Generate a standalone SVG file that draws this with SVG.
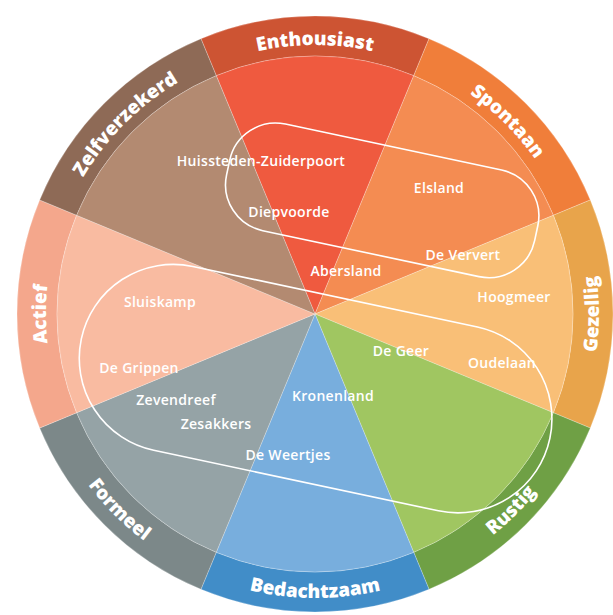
<svg xmlns="http://www.w3.org/2000/svg" width="613" height="615" viewBox="0 0 613 615">
<style>
.sec{stroke:#ffffff;stroke-opacity:0.35;stroke-width:0.7}
.ring{font-family:"Open Sans","Lato","DejaVu Sans",sans-serif;font-weight:800;font-size:19px;fill:#ffffff;letter-spacing:0px}
.lbl{font-family:"Open Sans","Lato","DejaVu Sans",sans-serif;font-weight:600;font-size:14px;fill:#ffffff;text-anchor:middle;letter-spacing:0.3px}
.pill{fill:none;stroke:#ffffff;stroke-width:1.6}
</style>
<defs>
<path id="pEnt" d="M82.04,179.5 A269,269 0 0 1 547.96,179.5"/>
<path id="pSpo" d="M245.38,54.16 A269,269 0 0 1 574.84,383.62"/>
<path id="pZel" d="M55.16,383.62 A269,269 0 0 1 384.62,54.16"/>
<path id="pAct" d="M180.5,546.96 A269,269 0 0 1 180.5,81.04"/>
<path id="pGez" d="M457,559.95 A284,284 0 0 0 457,68.05"/>
<path id="pRus" d="M241.5,588.32 A284,284 0 0 0 589.32,240.5"/>
<path id="pBed" d="M69.05,456 A284,284 0 0 0 560.95,456"/>
<path id="pFor" d="M40.68,240.5 A284,284 0 0 0 388.5,588.32"/>
</defs>
<g id="sector-enthousiast">
<path class="sec" fill="#CD5433" d="M200.96,38.68 A298,298 0 0 1 429.04,38.68 L413.73,75.64 A258,258 0 0 0 216.27,75.64 Z"/>
<path class="sec" fill="#EF5A3F" d="M315,314 L216.27,75.64 A258,258 0 0 1 413.73,75.64 Z"/>
<text class="ring"><textPath href="#pEnt" startOffset="50%" text-anchor="middle">Enthousiast</textPath></text>
</g>
<g id="sector-spontaan">
<path class="sec" fill="#F07E3A" d="M429.04,38.68 A298,298 0 0 1 590.32,199.96 L553.36,215.27 A258,258 0 0 0 413.73,75.64 Z"/>
<path class="sec" fill="#F48C52" d="M315,314 L413.73,75.64 A258,258 0 0 1 553.36,215.27 Z"/>
<text class="ring"><textPath href="#pSpo" startOffset="50%" text-anchor="middle">Spontaan</textPath></text>
</g>
<g id="sector-gezellig">
<path class="sec" fill="#E8A44B" d="M590.32,199.96 A298,298 0 0 1 590.32,428.04 L553.36,412.73 A258,258 0 0 0 553.36,215.27 Z"/>
<path class="sec" fill="#F9BF77" d="M315,314 L553.36,215.27 A258,258 0 0 1 553.36,412.73 Z"/>
<text class="ring"><textPath href="#pGez" startOffset="50%" text-anchor="middle">Gezellig</textPath></text>
</g>
<g id="sector-rustig">
<path class="sec" fill="#6FA045" d="M590.32,428.04 A298,298 0 0 1 429.04,589.32 L413.73,552.36 A258,258 0 0 0 553.36,412.73 Z"/>
<path class="sec" fill="#A0C661" d="M315,314 L553.36,412.73 A258,258 0 0 1 413.73,552.36 Z"/>
<text class="ring"><textPath href="#pRus" startOffset="50%" text-anchor="middle">Rustig</textPath></text>
</g>
<g id="sector-bedachtzaam">
<path class="sec" fill="#418DC8" d="M429.04,589.32 A298,298 0 0 1 200.96,589.32 L216.27,552.36 A258,258 0 0 0 413.73,552.36 Z"/>
<path class="sec" fill="#78AEDD" d="M315,314 L413.73,552.36 A258,258 0 0 1 216.27,552.36 Z"/>
<text class="ring"><textPath href="#pBed" startOffset="50%" text-anchor="middle">Bedachtzaam</textPath></text>
</g>
<g id="sector-formeel">
<path class="sec" fill="#7C8889" d="M200.96,589.32 A298,298 0 0 1 39.68,428.04 L76.64,412.73 A258,258 0 0 0 216.27,552.36 Z"/>
<path class="sec" fill="#95A3A6" d="M315,314 L216.27,552.36 A258,258 0 0 1 76.64,412.73 Z"/>
<text class="ring"><textPath href="#pFor" startOffset="50%" text-anchor="middle">Formeel</textPath></text>
</g>
<g id="sector-actief">
<path class="sec" fill="#F4A78C" d="M39.68,428.04 A298,298 0 0 1 39.68,199.96 L76.64,215.27 A258,258 0 0 0 76.64,412.73 Z"/>
<path class="sec" fill="#F9BBA1" d="M315,314 L76.64,412.73 A258,258 0 0 1 76.64,215.27 Z"/>
<text class="ring"><textPath href="#pAct" startOffset="50%" text-anchor="middle">Actief</textPath></text>
</g>
<g id="sector-zelfverzekerd">
<path class="sec" fill="#8E6A56" d="M39.68,199.96 A298,298 0 0 1 200.96,38.68 L216.27,75.64 A258,258 0 0 0 76.64,215.27 Z"/>
<path class="sec" fill="#B38A71" d="M315,314 L76.64,215.27 A258,258 0 0 1 216.27,75.64 Z"/>
<text class="ring"><textPath href="#pZel" startOffset="50%" text-anchor="middle">Zelfverzekerd</textPath></text>
</g>
<g id="connectors">
<rect class="pill" transform="rotate(12)" x="258" y="62" width="315" height="109" rx="47"/>
<rect class="pill" transform="rotate(12)" x="150" y="220.5" width="479" height="188" rx="94"/>
</g>
<g id="labels">
<text class="lbl" x="261" y="166">Huissteden-Zuiderpoort</text>
<text class="lbl" x="289" y="217">Diepvoorde</text>
<text class="lbl" x="439" y="193">Elsland</text>
<text class="lbl" x="346" y="276">Abersland</text>
<text class="lbl" x="463" y="260">De Ververt</text>
<text class="lbl" x="514" y="302">Hoogmeer</text>
<text class="lbl" x="160" y="307">Sluiskamp</text>
<text class="lbl" x="401" y="356">De Geer</text>
<text class="lbl" x="502" y="368">Oudelaan</text>
<text class="lbl" x="139" y="373">De Grippen</text>
<text class="lbl" x="333" y="401">Kronenland</text>
<text class="lbl" x="176" y="405">Zevendreef</text>
<text class="lbl" x="216" y="429">Zesakkers</text>
<text class="lbl" x="288" y="460">De Weertjes</text>
</g>
</svg>
